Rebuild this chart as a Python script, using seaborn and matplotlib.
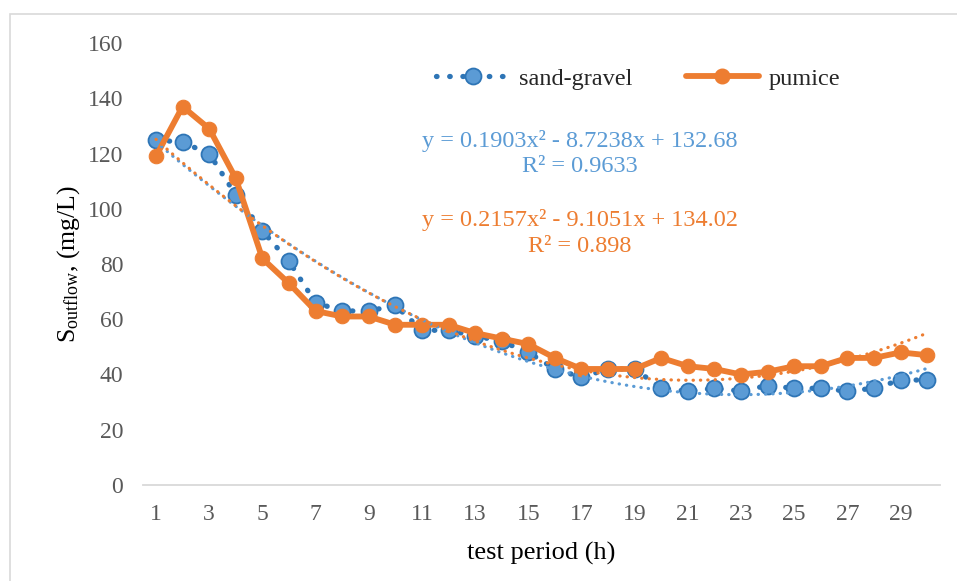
import numpy as np
import pandas as pd
import matplotlib
matplotlib.use("Agg")
import matplotlib.pyplot as plt
import seaborn as sns
from matplotlib.lines import Line2D
from matplotlib.patches import Rectangle

# ---- data ----
hours = list(range(1, 31))
sand_gravel = [125, 124, 120, 105, 92, 81, 66, 63, 63, 65, 56, 56, 54, 52, 48,
               42, 39, 42, 42, 35, 34, 35, 34, 36, 35, 35, 34, 35, 38, 38]
pumice = [119, 137, 129, 111, 82, 73, 63, 61, 61, 58, 58, 58, 55, 53, 51,
          46, 42, 42, 42, 46, 43, 42, 40, 41, 43, 43, 46, 46, 48, 47]
x_ticks = list(range(1, 30, 2))
y_ticks = list(range(0, 161, 20))
eq_sand = ["y = 0.1903x² - 8.7238x + 132.68", "R² = 0.9633"]
eq_pumice = ["y = 0.2157x² - 9.1051x + 134.02", "R² = 0.898"]

df = pd.DataFrame({"hour": hours, "sand": sand_gravel, "pumice": pumice})

sns.set_style("white")
plt.rcParams["font.family"] = ["Liberation Serif", "DejaVu Serif"]
plt.rcParams["mathtext.fontset"] = "custom"
plt.rcParams["mathtext.rm"] = "Liberation Serif"
plt.rcParams["mathtext.it"] = "Liberation Serif:italic"

BLUE_FILL = "#5B9BD5"
BLUE_DARK = "#2E75B6"
ORANGE = "#ED7D31"
GRID = "#D9D9D9"
TICK = "#595959"

DOT_BLUE = (0, (0.1, 2.4))
DOT_TREND = (0, (0.1, 2.2))

fig = plt.figure(figsize=(9.57, 5.81), dpi=100)
ax = fig.add_axes([142.7 / 957, 1 - 485 / 581, (940.5 - 142.7) / 957, (485 - 43) / 581])

# figure border
fig.patches.append(Rectangle((10 / 957, -0.1), 1.2, 1 - 14 / 581 + 0.1,
                             transform=fig.transFigure, fill=False,
                             edgecolor=GRID, linewidth=1.2, zorder=0))

# sand-gravel series
sns.lineplot(data=df, x="hour", y="sand", ax=ax, color=BLUE_DARK,
             linestyle=DOT_BLUE, linewidth=3.8, dash_capstyle="round",
             marker="o", markersize=11.5, markerfacecolor=BLUE_FILL,
             markeredgecolor=BLUE_DARK, markeredgewidth=1.3, zorder=3)
# pumice series
sns.lineplot(data=df, x="hour", y="pumice", ax=ax, color=ORANGE,
             linewidth=4.2, marker="o", markersize=10.5,
             markerfacecolor=ORANGE, markeredgecolor=ORANGE, zorder=4)

# polynomial trend lines
sns.regplot(data=df, x="hour", y="sand", ax=ax, order=2, ci=None, scatter=False,
            truncate=True,
            line_kws=dict(color=BLUE_FILL, linestyle=DOT_TREND, linewidth=2.3,
                          dash_capstyle="round", zorder=5))
sns.regplot(data=df, x="hour", y="pumice", ax=ax, order=2, ci=None, scatter=False,
            truncate=True,
            line_kws=dict(color=ORANGE, linestyle=DOT_TREND, linewidth=2.3,
                          dash_capstyle="round", zorder=5))

ax.set_xlim(0.5, 30.5)
ax.set_ylim(0, 160)
ax.set_xticks(x_ticks)
ax.set_xticklabels([str(t) for t in x_ticks])
ax.set_yticks(y_ticks)
ax.set_yticklabels([str(t) for t in y_ticks])
ax.tick_params(axis="both", length=0, labelsize=17, labelcolor=TICK)
ax.tick_params(axis="y", pad=14)
ax.tick_params(axis="x", pad=14)

for s in ["top", "right", "left"]:
    ax.spines[s].set_visible(False)
ax.spines["bottom"].set_color(GRID)
ax.spines["bottom"].set_linewidth(1.3)

ax.set_xlabel("test period (h)", fontsize=19, color="black", labelpad=12)
ax.set_ylabel(r"S$_{\mathrm{outflow}}$, (mg/L)", fontsize=18.5, color="black", labelpad=4)

# equation text
ax.text(580 / 957, 1 - 141 / 581, eq_sand[0], transform=fig.transFigure,
        ha="center", va="center", fontsize=17.5, color=BLUE_FILL)
ax.text(580 / 957, 1 - 167 / 581, eq_sand[1], transform=fig.transFigure,
        ha="center", va="center", fontsize=17.5, color=BLUE_FILL)
ax.text(580 / 957, 1 - 220 / 581, eq_pumice[0], transform=fig.transFigure,
        ha="center", va="center", fontsize=17.5, color=ORANGE)
ax.text(580 / 957, 1 - 247 / 581, eq_pumice[1], transform=fig.transFigure,
        ha="center", va="center", fontsize=17.5, color=ORANGE)

# legend
h1 = Line2D([], [], color=BLUE_DARK, linestyle=DOT_BLUE, linewidth=3.8,
            dash_capstyle="round", marker="o", markersize=11.5,
            markerfacecolor=BLUE_FILL, markeredgecolor=BLUE_DARK, markeredgewidth=1.3)
h2 = Line2D([], [], color=ORANGE, linewidth=4.2, marker="o", markersize=10.5,
            markerfacecolor=ORANGE, markeredgecolor=ORANGE)
leg = ax.legend([h1, h2], ["sand-gravel", "pumice"], ncol=2, frameon=False,
                fontsize=17.5, handlelength=3.0, columnspacing=2.2, handletextpad=0.4,
                loc="center", bbox_to_anchor=(638 / 957, 1 - 79 / 581),
                bbox_transform=fig.transFigure)

fig.savefig("out.png", dpi=100)
